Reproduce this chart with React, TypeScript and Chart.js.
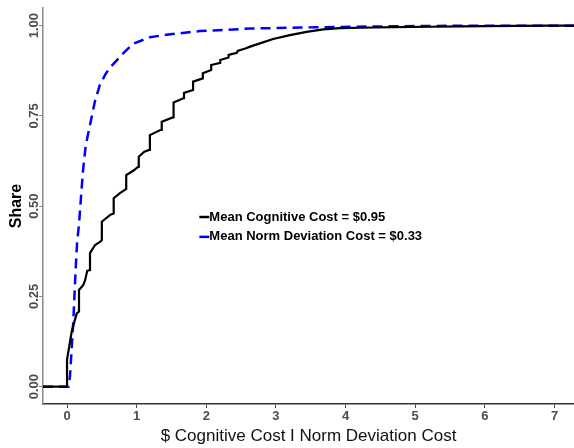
import React, { useEffect, useRef } from "react";
import { Chart, registerables } from "chart.js";

Chart.register(...registerables);

// Cognitive cost ECDF (step curve; repeated x = vertical step)
const cognitiveX = [-0.345, 0, 0, 0.067, 0.1, 0.14, 0.172, 0.172, 0.234, 0.26, 0.29, 0.33, 0.33, 0.4, 0.48, 0.5, 0.5, 0.62, 0.67, 0.67, 0.76, 0.83, 0.85, 0.85, 0.95, 1.02, 1.03, 1.03, 1.11, 1.18, 1.19, 1.19, 1.34, 1.36, 1.36, 1.52, 1.53, 1.53, 1.67, 1.68, 1.68, 1.81, 1.81, 1.95, 1.95, 2.07, 2.07, 2.2, 2.2, 2.32, 2.32, 2.44, 2.45, 2.56, 2.63, 2.77, 2.96, 3.2, 3.44, 3.68, 3.92, 4.4, 4.7, 5.2, 5.65, 6.0, 6.93, 7.3];
const cognitiveY = [0, 0, 0.075, 0.152, 0.176, 0.203, 0.208, 0.268, 0.282, 0.295, 0.321, 0.323, 0.37, 0.392, 0.402, 0.406, 0.457, 0.476, 0.48, 0.522, 0.536, 0.545, 0.548, 0.586, 0.598, 0.609, 0.609, 0.637, 0.651, 0.656, 0.656, 0.697, 0.711, 0.711, 0.734, 0.746, 0.746, 0.787, 0.799, 0.799, 0.814, 0.822, 0.845, 0.854, 0.868, 0.877, 0.891, 0.897, 0.905, 0.912, 0.919, 0.925, 0.93, 0.937, 0.942, 0.951, 0.963, 0.974, 0.983, 0.99, 0.993, 0.995, 0.996, 0.997, 0.998, 0.999, 1.0, 1.0];

// Norm deviation cost ECDF
const normX = [-0.345, 0.02, 0.043, 0.09, 0.125, 0.145, 0.172, 0.187, 0.23, 0.27, 0.33, 0.4, 0.47, 0.55, 0.62, 0.72, 0.76, 0.95, 1.19, 1.43, 1.91, 2.63, 3.35, 4.07, 5.0, 5.8, 7.3];
const normY = [0, 0, 0.03, 0.18, 0.33, 0.4, 0.45, 0.49, 0.6, 0.67, 0.725, 0.79, 0.835, 0.865, 0.885, 0.905, 0.915, 0.95, 0.968, 0.975, 0.985, 0.992, 0.995, 0.997, 0.999, 1.0, 1.0];

const seriesLabels = ["Mean Cognitive Cost = $0.95", "Mean Norm Deviation Cost = $0.33"];
const xTicks = [0, 1, 2, 3, 4, 5, 6, 7];
const yTicks = [0, 0.25, 0.5, 0.75, 1.0];
const yTickLabels = ["0.00", "0.25", "0.50", "0.75", "1.00"];

const legendPlugin = {
  id: "insideLegend",
  afterDatasetsDraw(chart: any) {
    const ctx = chart.ctx;
    const xs = chart.scales.x;
    const ys = chart.scales.y;
    const left = xs.getPixelForValue(1.9);
    const rows = [ys.getPixelForValue(0.47), ys.getPixelForValue(0.415)];
    ctx.save();
    chart.data.datasets.forEach((ds: any, i: number) => {
      const y = rows[i];
      ctx.strokeStyle = ds.borderColor;
      ctx.lineWidth = 2.5;
      ctx.setLineDash([]);
      ctx.beginPath();
      ctx.moveTo(left, y);
      ctx.lineTo(left + 10, y);
      ctx.stroke();
      ctx.fillStyle = "#000";
      ctx.font = "bold 13px 'Liberation Sans Narrow', 'Liberation Sans', Arial";
      ctx.textAlign = "left";
      ctx.textBaseline = "middle";
      ctx.fillText(ds.label, left + 10, y);
    });
    ctx.restore();
  },
};

export default function App() {
  const ref = useRef<HTMLCanvasElement>(null);
  useEffect(() => {
    const canvas = ref.current!;
    const chart = new Chart(canvas, {
      type: "scatter",
      data: {
        datasets: [
          {
            label: seriesLabels[0],
            data: cognitiveX.map((x, i) => ({ x, y: cognitiveY[i] })),
            showLine: true,
            borderColor: "#000000",
            borderWidth: 2.2,
            pointRadius: 0,
            tension: 0,
          },
          {
            label: seriesLabels[1],
            data: normX.map((x, i) => ({ x, y: normY[i] })),
            showLine: true,
            borderColor: "#0000FF",
            borderWidth: 2.5,
            borderDash: [10, 6],
            pointRadius: 0,
            tension: 0,
          },
        ],
      },
      options: {
        animation: false,
        responsive: false,
        devicePixelRatio: 1,
        layout: { padding: { top: 8, right: 0, left: 0, bottom: 0 } },
        plugins: { legend: { display: false }, tooltip: { enabled: false } },
        scales: {
          x: {
            type: "linear",
            min: -0.345,
            max: 7.28,
            afterBuildTicks: (s: any) => {
              s.ticks = xTicks.map((v) => ({ value: v }));
            },
            afterFit: (s: any) => {
              s.height = 44;
            },
            grid: { display: true, drawOnChartArea: false, drawTicks: true, tickLength: 4, tickColor: "#444", tickWidth: 1 },
            border: { display: true, color: "#333", width: 1.5 },
            ticks: {
              color: "#4D4D4D",
              font: { family: "'Liberation Sans', Arial", size: 13, weight: "bold" },
              padding: 1,
              maxRotation: 0,
              callback: (v: any) => String(v),
            },
            title: {
              display: true,
              text: "$ Cognitive Cost I Norm Deviation Cost",
              color: "#111",
              font: { family: "'Liberation Sans Narrow', 'Liberation Sans', Arial", size: 17 },
              padding: { top: 0, bottom: 1 },
            },
          },
          y: {
            type: "linear",
            min: -0.048,
            max: 1.049,
            afterBuildTicks: (s: any) => {
              s.ticks = yTicks.map((v) => ({ value: v }));
            },
            afterFit: (s: any) => {
              s.width = 43;
            },
            grid: { display: true, drawOnChartArea: false, drawTicks: true, tickLength: 4, tickColor: "#888", tickWidth: 1 },
            border: { display: true, color: "#888", width: 1.5 },
            ticks: {
              color: "#4D4D4D",
              font: { family: "'Liberation Sans', Arial", size: 13, weight: "bold" },
              minRotation: 90,
              maxRotation: 90,
              crossAlign: "center",
              padding: -8,
              callback: (v: any) => {
                const i = yTicks.indexOf(v);
                return i >= 0 ? yTickLabels[i] : "";
              },
            },
            title: {
              display: true,
              text: "Share",
              color: "#000",
              font: { family: "'Liberation Sans', Arial", size: 16, weight: "bold" },
              padding: { top: 7, bottom: 0 },
            },
          },
        },
      },
      plugins: [legendPlugin],
    } as any);
    return () => chart.destroy();
  }, []);
  return (
    <div style={{ position: "fixed", left: 0, top: 0, width: 574, height: 448, background: "#fff" }}>
      <canvas ref={ref} width={574} height={448} style={{ width: 574, height: 448 }} />
    </div>
  );
}
